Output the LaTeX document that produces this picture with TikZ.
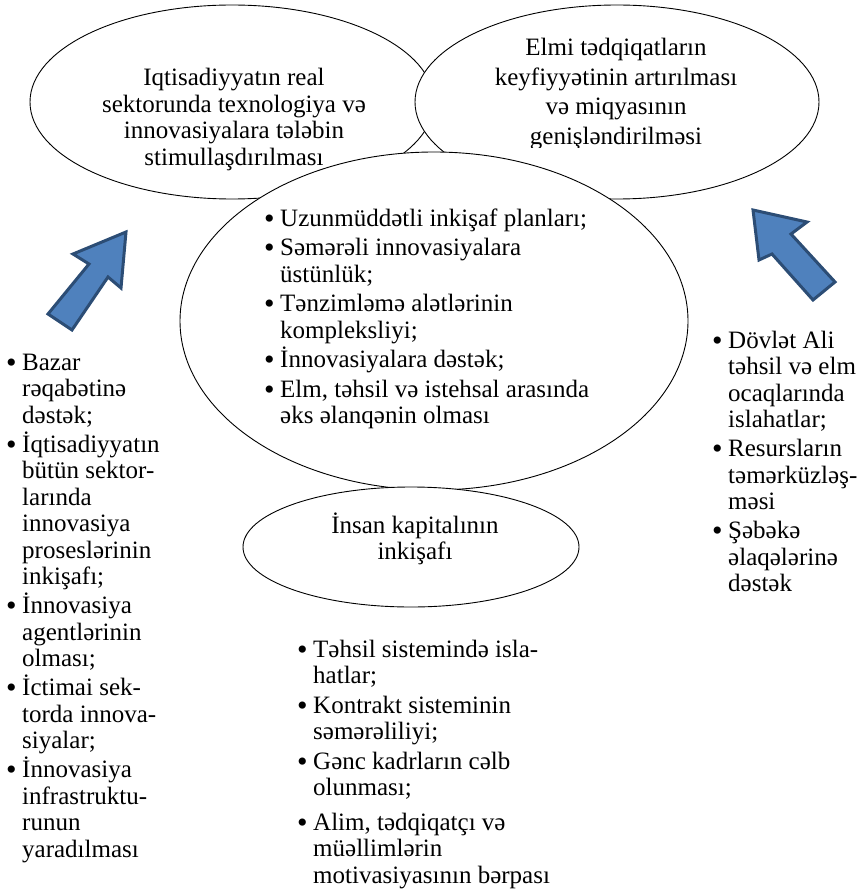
\documentclass[tikz,border=0pt]{standalone}
\usepackage{fontspec}
\setmainfont{Liberation Serif}
\usetikzlibrary{shapes.geometric}
\definecolor{arrowfill}{HTML}{4F81BD}
\definecolor{arrowline}{HTML}{2C4D75}
\newcommand{\bitem}{\makebox[16pt][l]{\raisebox{-2pt}{\fontsize{30}{0}\selectfont\textbullet}}}
\newcommand{\bcont}{\hspace*{16pt}}

\begin{document}
\begin{tikzpicture}[x=1pt,y=-1pt,
  bubble/.style={draw,ellipse,fill=white,inner sep=0pt,line width=0.9pt},
  bubbletext/.style={align=center,inner sep=0pt,anchor=base,
    font={\fontsize{25}{26.5}\selectfont\lineskiplimit=-100pt}},
  listtext/.style={align=left,inner sep=0pt,anchor=base west,
    font={\fontsize{25}{26.5}\selectfont\lineskiplimit=-100pt}},
  bluearrow/.style={fill=arrowfill,draw=arrowline,line width=3pt,line join=miter}]
\useasboundingbox (0,0) rectangle (860,893);

% top ellipses (texts placed by their last baseline)
\node[bubble,minimum width=404pt,minimum height=194pt] (real) at (232,102) {};
\node[bubbletext] (realtxt) at (234,165.5) {Iqtisadiyyatın real\\sektorunda texnologiya və\\innovasiyalara tələbin\\stimullaşdırılması};

\node[bubble,minimum width=404pt,minimum height=194pt] (elmi) at (617,102) {};
\begin{scope}
\clip (420,0) rectangle (820,148);
\node[bubbletext,font={\fontsize{25}{29.5}\selectfont\lineskiplimit=-100pt}] (elmitxt) at (616,144.5) {Elmi tədqiqatların\\keyfiyyətinin artırılması\\və miqyasının\\genişləndirilməsi};
\end{scope}

% middle ellipse
\node[bubble,minimum width=508pt,minimum height=338pt] (plan) at (434,321) {};
\node[listtext] (plantxt) at (264,423.5) {\bitem Uzunmüddətli inkişaf planları;\\[3pt]
\bitem Səmərəli innovasiyalara\\ \bcont üstünlük;\\[3pt]
\bitem Tənzimləmə alətlərinin\\ \bcont kompleksliyi;\\[3pt]
\bitem İnnovasiyalara dəstək;\\[3pt]
\bitem Elm, təhsil və istehsal arasında\\ \bcont əks əlanqənin olması};

% bottom ellipse
\node[bubble,minimum width=336pt,minimum height=120pt] (insan) at (411,547) {};
\node[bubbletext] (insantxt) at (415,559.5) {İnsan kapitalının\\inkişafı};

% arrows
\draw[bluearrow] (126,232) -- (73,254) -- (89,264) -- (48,314) -- (72,330) -- (108,277) -- (121,288) -- cycle;
\draw[bluearrow] (753,210) -- (807,222) -- (791,234) -- (835,282) -- (813,300) -- (772,254) -- (759,260) -- cycle;

% lists
\node[listtext] (left) at (6,857) {\bitem Bazar\\ \bcont rəqabətinə\\ \bcont dəstək;\\[2.5pt]
\bitem İqtisadiyyatın\\ \bcont bütün sektor-\\ \bcont larında\\ \bcont innovasiya\\ \bcont proseslərinin\\ \bcont inkişafı;\\[2.5pt]
\bitem İnnovasiya\\ \bcont agentlərinin\\ \bcont olması;\\[2.5pt]
\bitem İctimai sek-\\ \bcont torda innova-\\ \bcont siyalar;\\[2.5pt]
\bitem İnnovasiya\\ \bcont infrastruktu-\\ \bcont runun\\ \bcont yaradılması};

\node[listtext] (right) at (712,591.5) {\bitem Dövlət Ali\\ \bcont təhsil və elm\\ \bcont ocaqlarında\\ \bcont islahatlar;\\[2.5pt]
\bitem Resursların\\ \bcont təmərküzləş-\\ \bcont məsi\\[2.5pt]
\bitem Şəbəkə\\ \bcont əlaqələrinə\\ \bcont dəstək};

\node[listtext] (bottom) at (297,883) {\bitem Təhsil sistemində isla-\\ \bcont hatlar;\\[3pt]
\bitem Kontrakt sisteminin\\ \bcont səmərəliliyi;\\[3pt]
\bitem Gənc kadrların cəlb\\ \bcont olunması;\\[8pt]
\bitem Alim, tədqiqatçı və\\ \bcont müəllimlərin\\ \bcont motivasiyasının bərpası};
\end{tikzpicture}
\end{document}
